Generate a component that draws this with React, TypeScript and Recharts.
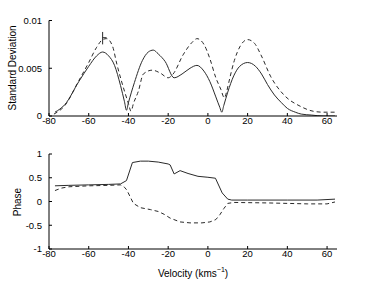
import { LineChart, Line, XAxis, YAxis, ReferenceLine } from 'recharts'

const FONT = '"Liberation Sans", Arial, Helvetica, sans-serif'

const velTicks = [-80, -60, -40, -20, 0, 20, 40, 60]
const sdTicks = [0, 0.005, 0.01]
const phaseTicks = [-1, -0.5, 0, 0.5, 1]

// standard deviation, solid curve
const sdSolidVel = [-77, -72, -65, -60, -56, -53, -50, -47, -44, -42, -41, -40, -37, -33, -30, -27.5, -25, -21.5, -17, -13, -9, -5.5, -2, 1, 4, 6, 7, 8, 10, 13, 16, 20, 24, 27, 30, 33.5, 37, 40, 44, 47, 52, 58, 64]
const sdSolidVal = [0.0004, 0.0012, 0.0036, 0.0052, 0.0063, 0.0067, 0.0063, 0.0053, 0.0032, 0.0015, 0.0006, 0.0014, 0.0035, 0.0058, 0.0067, 0.0069, 0.0065, 0.0057, 0.004, 0.0044, 0.005, 0.0053, 0.0047, 0.0036, 0.002, 0.0009, 0.0004, 0.0011, 0.0025, 0.0042, 0.0052, 0.0056, 0.0052, 0.0044, 0.0033, 0.0022, 0.0014, 0.0008, 0.0004, 0.0002, 0.0001, 0, 0]

// standard deviation, dashed curve
const sdDashVel = [-77.5, -72, -65, -60, -56, -53, -51, -48, -45.8, -41.7, -40, -38.7, -37.5, -35, -32.5, -28, -24, -20, -17.5, -12.5, -8, -5.5, -2, 1, 4, 6.5, 8.3, 9.5, 10.5, 13.3, 16.5, 20, 23.5, 26.7, 31.7, 38.3, 46.7, 53, 58, 64]
const sdDashVal = [0.0002, 0.0011, 0.0037, 0.0056, 0.0072, 0.008, 0.0081, 0.0073, 0.0054, 0.0024, 0.0013, 0.0005, 0.0013, 0.0026, 0.0044, 0.0048, 0.0045, 0.004, 0.0044, 0.0064, 0.0077, 0.0081, 0.0075, 0.006, 0.004, 0.0028, 0.0019, 0.0026, 0.0035, 0.0058, 0.0074, 0.008, 0.0076, 0.0064, 0.0041, 0.0022, 0.001, 0.0005, 0.0004, 0.0004]

// error bar near the first dashed peak
const errVel = -53
const errCapVel = -51
const errLow = 0.0075
const errHigh = 0.0088
const errMid = 0.0082

// phase, solid curve
const phSolidVel = [-77, -70, -60, -50, -44, -41, -38, -34, -30, -25, -20, -19, -17, -14, -10, -5, 0, 3.8, 7.2, 10, 12, 20, 40, 55, 64]
const phSolidVal = [0.33, 0.34, 0.35, 0.36, 0.37, 0.44, 0.82, 0.85, 0.85, 0.83, 0.79, 0.77, 0.58, 0.65, 0.59, 0.53, 0.51, 0.49, 0.18, 0.05, 0.03, 0.03, 0.03, 0.03, 0.05]

// phase, dashed curve
const phDashVel = [-77, -74, -70, -60, -50, -44, -42, -40.8, -37.5, -34, -29, -25, -22, -19, -14, -9, -3, 1, 4, 6, 8, 10, 13, 30, 50, 60, 64]
const phDashVal = [0.23, 0.28, 0.31, 0.33, 0.34, 0.35, 0.3, 0.24, -0.04, -0.13, -0.17, -0.21, -0.27, -0.35, -0.43, -0.45, -0.45, -0.43, -0.38, -0.28, -0.15, -0.04, -0.02, -0.03, -0.05, -0.05, -0.01]

const zip = (xs: number[], ys: number[]) => xs.map((x, i) => ({ v: x, y: ys[i] }))

const tickStyle = { fontSize: 9.5, fill: '#000', fontFamily: FONT }
const lineColor = '#2a2a2a'

function Axes({ yDomain, yTicks }: { yDomain: [number, number]; yTicks: number[] }) {
  return (
    <>
      <XAxis dataKey="v" type="number" domain={[-80, 65]} ticks={velTicks} allowDataOverflow
        height={20} tickSize={-3} tickMargin={4} tick={tickStyle}
        axisLine={{ stroke: '#000' }} tickLine={{ stroke: '#000' }} />
      <XAxis xAxisId="top" orientation="top" dataKey="v" type="number" domain={[-80, 65]} ticks={velTicks}
        allowDataOverflow height={0} tickSize={-3} tick={false}
        axisLine={{ stroke: '#000' }} tickLine={{ stroke: '#000' }} />
      <YAxis type="number" domain={yDomain} ticks={yTicks} allowDataOverflow width={40}
        tickSize={-3} tickMargin={10} tick={tickStyle}
        axisLine={{ stroke: '#000' }} tickLine={{ stroke: '#000' }} />
      <YAxis yAxisId="right" orientation="right" type="number" domain={yDomain} ticks={yTicks}
        allowDataOverflow width={0} tickSize={-3} tick={false}
        axisLine={{ stroke: '#000' }} tickLine={{ stroke: '#000' }} />
    </>
  )
}

export default function App() {
  const sdSolid = zip(sdSolidVel, sdSolidVal)
  const sdDash = zip(sdDashVel, sdDashVal)
  const phSolid = zip(phSolidVel, phSolidVal)
  const phDash = zip(phDashVel, phDashVal)

  return (
    <div style={{ position: 'absolute', left: 0, top: 0, width: 374, height: 281, background: '#fff', fontFamily: FONT }}>
      <div style={{ position: 'absolute', left: 0, top: 0 }}>
        <LineChart width={374} height={140} margin={{ top: 20.5, right: 37, bottom: 4, left: 9 }}>
          {Axes({ yDomain: [0, 0.01], yTicks: sdTicks })}
          <Line data={sdSolid} dataKey="y" type="monotone" stroke={lineColor} strokeWidth={1} dot={false} isAnimationActive={false} />
          <Line data={sdDash} dataKey="y" type="monotone" stroke={lineColor} strokeWidth={1} strokeDasharray="4 3" dot={false} isAnimationActive={false} />
          <ReferenceLine segment={[{ x: errVel, y: errLow }, { x: errVel, y: errHigh }]} stroke={lineColor} strokeWidth={1} />
          <ReferenceLine segment={[{ x: errVel, y: errMid }, { x: errCapVel, y: errMid }]} stroke={lineColor} strokeWidth={1} />
        </LineChart>
      </div>
      <div style={{ position: 'absolute', left: 0, top: 140 }}>
        <LineChart width={374} height={141} margin={{ top: 14, right: 37, bottom: 12, left: 9 }}>
          {Axes({ yDomain: [-1, 1], yTicks: phaseTicks })}
          <Line data={phSolid} dataKey="y" type="linear" stroke={lineColor} strokeWidth={1} dot={false} isAnimationActive={false} />
          <Line data={phDash} dataKey="y" type="linear" stroke={lineColor} strokeWidth={1} strokeDasharray="4 3" dot={false} isAnimationActive={false} />
        </LineChart>
      </div>
      <div style={{ position: 'absolute', left: 12, top: 68, fontSize: 10, whiteSpace: 'nowrap', transform: 'translate(-50%, -50%) rotate(-90deg)' }}>
        Standard Deviation
      </div>
      <div style={{ position: 'absolute', left: 17, top: 201.5, fontSize: 10, whiteSpace: 'nowrap', transform: 'translate(-50%, -50%) rotate(-90deg)' }}>
        Phase
      </div>
      <div style={{ position: 'absolute', left: 193, top: 272.5, fontSize: 10, whiteSpace: 'nowrap', transform: 'translate(-50%, -50%)' }}>
        Velocity (kms<sup style={{ fontSize: 7, verticalAlign: 'super', lineHeight: 0 }}>−1</sup>)
      </div>
    </div>
  )
}
